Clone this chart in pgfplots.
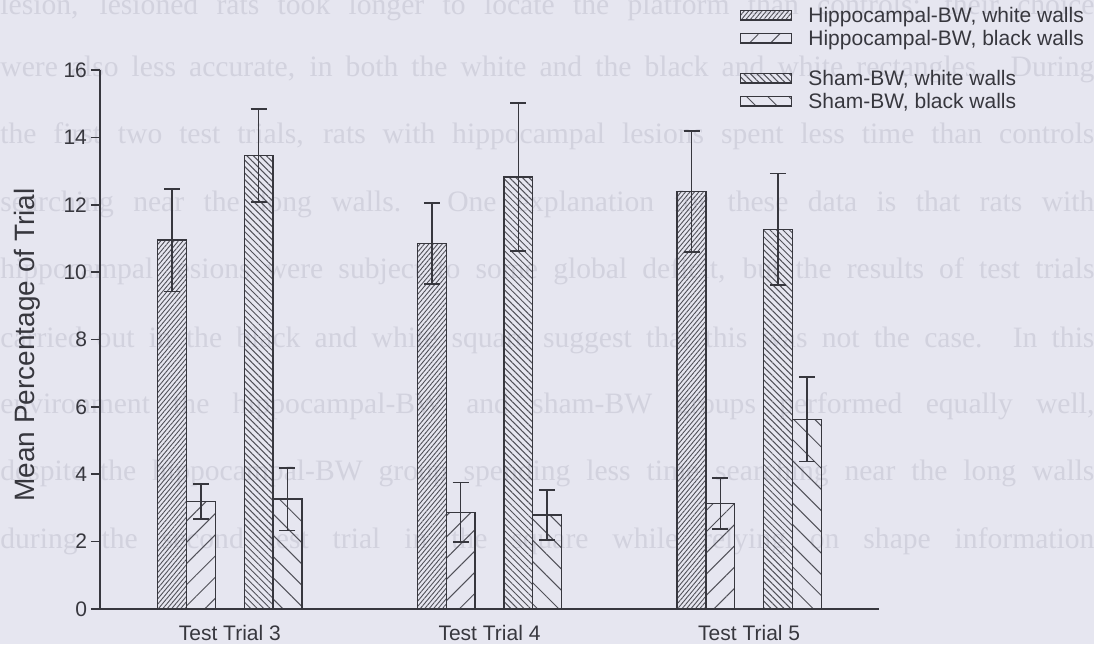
\documentclass[border=0pt]{standalone}
\usepackage{fontspec}
\setmainfont{Liberation Sans}
\newfontfamily\ghostfont{Liberation Serif}
\usepackage{pgfplots}
\usepackage{pgfplotstable}
\pgfplotsset{compat=1.18}
\usetikzlibrary{patterns.meta}
\pgfdeclarelayer{background}
\pgfsetlayers{background,main}
\definecolor{bg}{RGB}{230,230,240}
\definecolor{ink}{RGB}{55,55,62}
\definecolor{hatch}{RGB}{80,80,88}
\definecolor{ghost}{RGB}{210,210,222}

\pgfplotstableread{
x y e
0 10.95 1.52
1 10.85 1.20
2 12.39 1.80
}\hw
\pgfplotstableread{
x y e
0 3.19 0.52
1 2.87 0.88
2 3.13 0.76
}\hb
\pgfplotstableread{
x y e
0 13.46 1.38
1 12.82 2.20
2 11.27 1.66
}\sw
\pgfplotstableread{
x y e
0 3.26 0.93
1 2.79 0.74
2 5.63 1.25
}\sb

\newcommand{\ghostline}[2]{\node[anchor=base west, inner sep=0pt, text=ghost, font=\ghostfont\fontsize{14.8}{18}\selectfont] at (-50pt,#1) {\makebox[547pt][s]{#2}};}

\begin{document}
\begin{tikzpicture}
\begin{pgfonlayer}{background}
\fill[bg] (-50pt,-17.5pt) rectangle (497pt,304.5pt);
\ghostline{297pt}{lesion, lesioned rats took longer to locate the platform than controls; their choice}
\ghostline{266pt}{were also less accurate, in both the white and the black and white rectangles. During}
\ghostline{232.5pt}{the first two test trials, rats with hippocampal lesions spent less time than controls}
\ghostline{198.5pt}{searching near the long walls. One explanation for these data is that rats with}
\ghostline{165pt}{hippocampal lesions were subject to some global deficit, but the results of test trials}
\ghostline{131pt}{carried out in the black and white square suggest that this was not the case. In this}
\ghostline{97.5pt}{environment the hippocampal-BW and sham-BW groups performed equally well,}
\ghostline{64pt}{despite the hippocampal-BW group spending less time searching near the long walls}
\ghostline{30.5pt}{during the second test trial in the square while relying on shape information}
\end{pgfonlayer}
\begin{axis}[
  anchor=south west, at={(0pt,0pt)},
  scale only axis, width=389.5pt, height=269.5pt,
  xmin=-0.5, xmax=2.5, ymin=0, ymax=16,
  axis x line=bottom, axis y line=left,
  axis line style={-, ink, line width=0.8pt},
  ybar, bar width=0.111,
  xtick={0,1,2}, xticklabels={Test Trial 3,Test Trial 4,Test Trial 5},
  major x tick style={draw=none},
  ytick={0,2,...,16},
  tick align=outside, major tick length=4.5pt,
  major y tick style={ink, line width=0.8pt},
  tick label style={font=\fontsize{10.5}{12}\selectfont, text=ink},
  yticklabel style={xshift=1.5pt},
  /pgf/number format/assume math mode=true,
  ylabel={Mean Percentage of Trial},
  every axis y label/.style={at={(axis description cs:-0.094,0.49)}, rotate=90, anchor=center,
    font=\fontsize{14}{16}\selectfont, text=ink},
  legend cell align=left,
  legend style={at={(0.8216,1.116)}, anchor=north west, draw=none, fill=none,
    inner sep=0pt, outer sep=0pt, row sep=1.5pt, column sep=8pt,
    font=\fontsize{10.5}{12}\selectfont, text=ink,
    nodes={inner sep=0pt, text height=7.5pt, text depth=2.5pt}},
  legend image code/.code={\draw[#1] (0pt,-1.3pt) rectangle (25.5pt,3.5pt);},
  error bars/y dir=both, error bars/y explicit,
  error bars/error bar style={ink, line width=0.8pt},
  error bars/error mark options={rotate=90, ink, line width=0.8pt, mark size=4pt},
]
\addplot[draw=ink, line width=0.7pt, pattern={Lines[angle=50,distance=1.7pt,line width=0.45pt]}, pattern color=hatch, bar shift=-0.222]
  table[x=x, y=y, y error=e]{\hw};
\addlegendentry{Hippocampal-BW, white walls}
\addplot[draw=ink, line width=0.7pt, pattern={Lines[angle=45,distance=7.5pt,line width=0.5pt]}, pattern color=hatch, bar shift=-0.111]
  table[x=x, y=y, y error=e]{\hb};
\addlegendentry{Hippocampal-BW, black walls}
\addlegendimage{empty legend}
\addlegendentry[text height=7pt, text depth=0pt]{}
\addplot[draw=ink, line width=0.7pt, pattern={Lines[angle=-45,distance=2.3pt,line width=0.5pt]}, pattern color=hatch, bar shift=0.111]
  table[x=x, y=y, y error=e]{\sw};
\addlegendentry{Sham-BW, white walls}
\addplot[draw=ink, line width=0.7pt, pattern={Lines[angle=-45,distance=7.5pt,line width=0.5pt]}, pattern color=hatch, bar shift=0.222]
  table[x=x, y=y, y error=e]{\sb};
\addlegendentry{Sham-BW, black walls}
\end{axis}
\pgfresetboundingbox
\path (-50pt,-17.5pt) rectangle (497pt,304.5pt);
\end{tikzpicture}
\end{document}
